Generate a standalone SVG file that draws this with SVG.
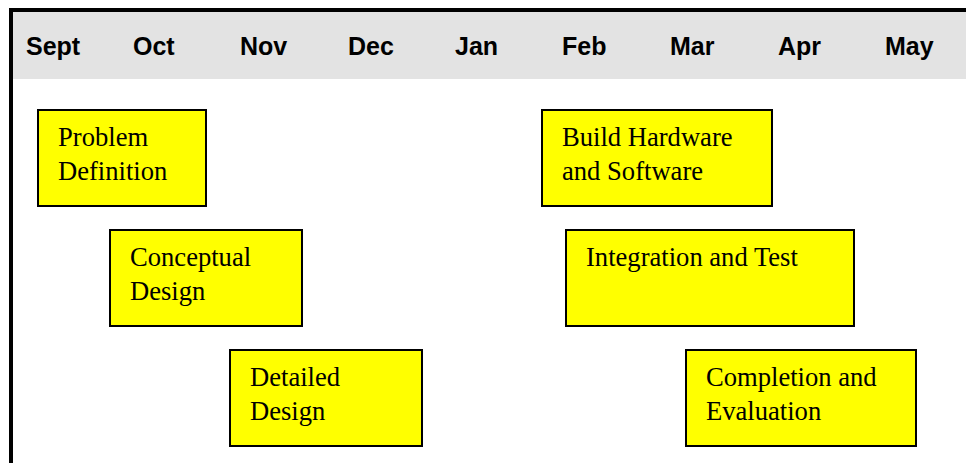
<svg xmlns="http://www.w3.org/2000/svg" width="966" height="463" viewBox="0 0 966 463">
  <style>
    .month { font-family: "Liberation Sans", Arial, sans-serif; font-weight: bold; font-size: 25px; fill: #000; }
    .task rect { fill: #ffff00; stroke: #000; stroke-width: 2; }
    .task text { font-family: "Liberation Serif", "Times New Roman", serif; font-size: 26.6px; fill: #000; }
  </style>

  <!-- page background -->
  <rect x="0" y="0" width="966" height="463" fill="#ffffff"/>

  <!-- month header band -->
  <g id="header">
    <rect x="12" y="12" width="954" height="67" fill="#e3e3e3"/>
    <text class="month" x="26" y="55">Sept</text>
    <text class="month" x="133" y="55">Oct</text>
    <text class="month" x="240" y="55">Nov</text>
    <text class="month" x="348" y="55">Dec</text>
    <text class="month" x="455" y="55">Jan</text>
    <text class="month" x="562" y="55">Feb</text>
    <text class="month" x="670" y="55">Mar</text>
    <text class="month" x="778" y="55">Apr</text>
    <text class="month" x="885" y="55">May</text>
  </g>

  <!-- frame edges -->
  <g id="frame" stroke="#000" stroke-width="4">
    <line x1="11" y1="10" x2="966" y2="10"/>
    <line x1="11" y1="8" x2="11" y2="463"/>
  </g>

  <!-- task blocks -->
  <g id="problem-definition" class="task">
    <rect x="38" y="110" width="168" height="96"/>
    <text x="58" y="146">Problem</text>
    <text x="58" y="180">Definition</text>
  </g>

  <g id="conceptual-design" class="task">
    <rect x="110" y="230" width="192" height="96"/>
    <text x="130" y="266">Conceptual</text>
    <text x="130" y="300">Design</text>
  </g>

  <g id="detailed-design" class="task">
    <rect x="230" y="350" width="192" height="96"/>
    <text x="250" y="386">Detailed</text>
    <text x="250" y="420">Design</text>
  </g>

  <g id="build-hardware-software" class="task">
    <rect x="542" y="110" width="230" height="96"/>
    <text x="562" y="146">Build Hardware</text>
    <text x="562" y="180">and Software</text>
  </g>

  <g id="integration-test" class="task">
    <rect x="566" y="230" width="288" height="96"/>
    <text x="586" y="266">Integration and Test</text>
  </g>

  <g id="completion-evaluation" class="task">
    <rect x="686" y="350" width="230" height="96"/>
    <text x="706" y="386">Completion and</text>
    <text x="706" y="420">Evaluation</text>
  </g>

  <!-- no connectors between tasks -->
  <g id="connectors"/>
</svg>
